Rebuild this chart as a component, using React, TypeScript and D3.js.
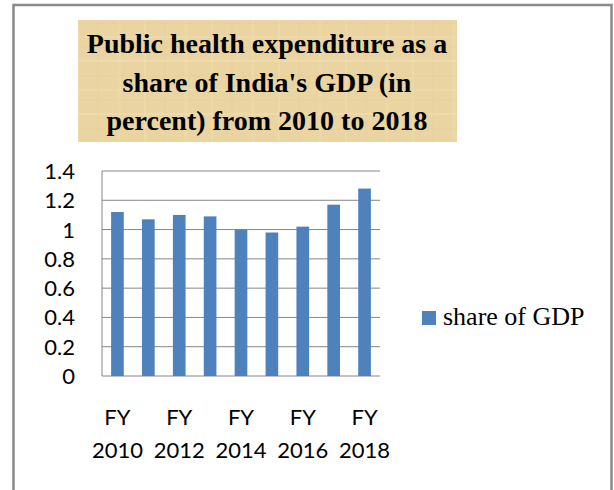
import React from "react";
import * as d3 from "d3";

const categories = [
  "FY 2010", "FY 2011", "FY 2012", "FY 2013", "FY 2014",
  "FY 2015", "FY 2016", "FY 2017", "FY 2018",
];
const shareOfGDP = [1.12, 1.07, 1.1, 1.09, 1.0, 0.98, 1.02, 1.17, 1.28];
const yTicks = [0, 0.2, 0.4, 0.6, 0.8, 1, 1.2, 1.4];
const labeledCategories = ["FY 2010", "FY 2012", "FY 2014", "FY 2016", "FY 2018"];
const titleLines = [
  "Public health expenditure as a",
  "share of India's GDP (in",
  "percent) from 2010 to 2018",
];
const seriesName = "share of GDP";

const W = 614;
const H = 490;
const plot = { left: 102, right: 380, top: 171, bottom: 376 };
const barColor = "#4F81BD";
const gridColor = "#868686";

export default function App() {
  const x = d3
    .scaleBand<string>()
    .domain(categories)
    .range([plot.left, plot.right])
    .paddingInner(0.59)
    .paddingOuter(0.295);
  const y = d3.scaleLinear().domain([0, 1.4]).range([plot.bottom, plot.top]);

  return (
    <svg
      width={W}
      height={H}
      style={{ position: "absolute", left: 0, top: 0 }}
      xmlns="http://www.w3.org/2000/svg"
    >
      <defs>
        <pattern id="papyrus" width="67" height="53" patternUnits="userSpaceOnUse">
          <rect width="67" height="53" fill="#EAD5A2" />
          <line x1="0" y1="8" x2="67" y2="8" stroke="#F1E2BA" strokeWidth="2" opacity="0.45" />
          <line x1="0" y1="23" x2="67" y2="23" stroke="#DFC892" strokeWidth="1.5" opacity="0.35" />
          <line x1="0" y1="37" x2="67" y2="37" stroke="#F0DFB3" strokeWidth="2" opacity="0.4" />
          <line x1="0" y1="47" x2="67" y2="47" stroke="#E0C994" strokeWidth="1" opacity="0.35" />
          <line x1="11" y1="0" x2="11" y2="53" stroke="#F0E0B5" strokeWidth="2" opacity="0.35" />
          <line x1="31" y1="0" x2="31" y2="53" stroke="#DCC48D" strokeWidth="1" opacity="0.3" />
          <line x1="52" y1="0" x2="52" y2="53" stroke="#EFDDB0" strokeWidth="2.5" opacity="0.35" />
        </pattern>
      </defs>
      <rect x={0} y={0} width={W} height={H} fill="#FFFFFF" />
      {/* outer frame */}
      <rect
        x={13.5}
        y={5}
        width={598}
        height={H + 10}
        fill="none"
        stroke="#8A8A8A"
        strokeWidth={2.5}
      />

      {/* title */}
      <rect x={78} y={20} width={379} height={122} fill="url(#papyrus)" />
      {titleLines.map((t, i) => (
        <text
          key={t}
          x={267}
          y={53 + i * 38.5}
          textAnchor="middle"
          fontFamily="'Liberation Serif', 'Times New Roman', serif"
          fontWeight="bold"
          fontSize={28}
          fill="#000"
        >
          {t}
        </text>
      ))}

      {/* gridlines */}
      {yTicks.map((v) => (
        <line
          key={"g" + v}
          x1={plot.left}
          x2={plot.right}
          y1={y(v)}
          y2={y(v)}
          stroke={gridColor}
          strokeWidth={1}
        />
      ))}
      <line
        x1={plot.left}
        x2={plot.left}
        y1={plot.top}
        y2={plot.bottom}
        stroke={gridColor}
        strokeWidth={1}
      />

      {/* y labels */}
      {yTicks.map((v) => (
        <text
          key={"y" + v}
          x={75}
          y={y(v) + 8}
          textAnchor="end"
          fontFamily="Lato, 'Open Sans', sans-serif"
          fontSize={22}
          fill="#000"
        >
          {String(v)}
        </text>
      ))}

      {/* bars */}
      {categories.map((c, i) => (
        <rect
          key={c}
          x={x(c)!}
          y={y(shareOfGDP[i])}
          width={x.bandwidth()}
          height={y(0) - y(shareOfGDP[i])}
          fill={barColor}
        />
      ))}

      {/* x labels */}
      {labeledCategories.map((c) => {
        const cx = x(c)! + x.bandwidth() / 2;
        const [a, b] = c.split(" ");
        return (
          <g key={"x" + c} fontFamily="Lato, 'Open Sans', sans-serif" fontSize={22} fill="#000">
            <text x={cx} y={425} textAnchor="middle">{a}</text>
            <text x={cx} y={458} textAnchor="middle">{b}</text>
          </g>
        );
      })}

      {/* legend */}
      <rect x={422} y={311} width={14} height={14} fill={barColor} />
      <text
        x={443}
        y={325}
        fontFamily="'Liberation Serif', 'Times New Roman', serif"
        fontSize={26}
        fill="#000"
      >
        {seriesName}
      </text>
    </svg>
  );
}
